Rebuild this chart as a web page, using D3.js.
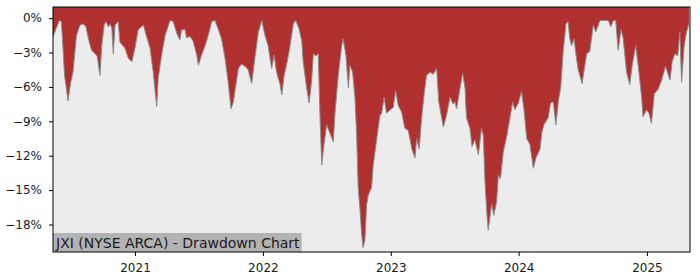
<!DOCTYPE html>
<html>
<head>
<meta charset="utf-8">
<script src="https://cdn.jsdelivr.net/npm/d3@7"></script>
<style>
  body { margin: 0; background: #fff; }
  svg { display: block; font-family: "DejaVu Sans", sans-serif; }
</style>
</head>
<body>
<svg id="chart" width="700" height="280"></svg>
<script>
// drawdown of JXI (percent)
const dates = [
  "2020-05-12","2020-05-30","2020-06-05","2020-06-14","2020-06-24","2020-07-01","2020-07-08","2020-07-18",
  "2020-07-28","2020-08-06","2020-08-14","2020-08-21","2020-08-30","2020-09-09","2020-09-15","2020-09-23",
  "2020-09-28","2020-10-05","2020-10-10","2020-10-17","2020-10-22","2020-10-27","2020-10-31","2020-11-05",
  "2020-11-14","2020-11-19","2020-12-03","2020-12-13","2020-12-23",
  "2021-01-01","2021-01-10","2021-01-25","2021-02-03","2021-02-13","2021-02-22","2021-03-04","2021-03-08",
  "2021-03-18","2021-03-28","2021-04-11","2021-04-20","2021-04-30","2021-05-09","2021-05-14","2021-05-24",
  "2021-05-28","2021-06-07","2021-06-16","2021-06-26","2021-07-01","2021-07-10","2021-07-20","2021-07-29",
  "2021-08-08","2021-08-17","2021-08-27","2021-09-05","2021-09-15","2021-09-24","2021-10-02","2021-10-09",
  "2021-10-13","2021-10-23","2021-11-01","2021-11-11","2021-11-20","2021-11-30","2021-12-09","2021-12-19",
  "2021-12-29",
  "2022-01-07","2022-01-16","2022-01-26","2022-02-02","2022-02-09","2022-02-19","2022-02-24","2022-03-02",
  "2022-03-10","2022-03-19","2022-03-29","2022-04-05","2022-04-15","2022-04-22","2022-04-26","2022-05-06",
  "2022-05-13","2022-05-20","2022-05-25","2022-06-01","2022-06-08","2022-06-13","2022-06-18","2022-06-24",
  "2022-07-02","2022-07-11","2022-07-21","2022-07-26","2022-08-04","2022-08-14","2022-08-18","2022-08-26",
  "2022-09-02","2022-09-06","2022-09-14","2022-09-21","2022-09-26","2022-09-30","2022-10-05","2022-10-10",
  "2022-10-14","2022-10-19","2022-10-24","2022-10-29","2022-11-07","2022-11-12","2022-11-22","2022-12-01",
  "2022-12-06","2022-12-13","2022-12-20","2022-12-30",
  "2023-01-08","2023-01-15","2023-01-22","2023-02-01","2023-02-10","2023-02-20","2023-03-02","2023-03-11",
  "2023-03-16","2023-03-23","2023-03-30","2023-04-07","2023-04-13","2023-04-23","2023-05-02","2023-05-12",
  "2023-05-18","2023-05-31","2023-06-09","2023-06-19","2023-06-28","2023-07-03","2023-07-08","2023-07-15",
  "2023-07-25","2023-08-01","2023-08-05","2023-08-15","2023-08-21","2023-08-29","2023-09-08","2023-09-17",
  "2023-09-22","2023-09-27","2023-10-02","2023-10-06","2023-10-16","2023-10-22","2023-10-30","2023-11-04",
  "2023-11-10","2023-11-18","2023-11-28","2023-12-07","2023-12-15","2023-12-21","2023-12-31",
  "2024-01-09","2024-01-16","2024-01-24","2024-02-02","2024-02-12","2024-02-19","2024-03-02","2024-03-07",
  "2024-03-13","2024-03-25","2024-04-01","2024-04-09","2024-04-16","2024-04-23","2024-04-30","2024-05-07",
  "2024-05-15","2024-05-21","2024-05-26","2024-05-31","2024-06-07","2024-06-14","2024-06-19","2024-06-30",
  "2024-07-13","2024-07-22","2024-08-01","2024-08-08","2024-08-20","2024-09-03","2024-09-13","2024-09-20",
  "2024-09-27","2024-10-04","2024-10-11","2024-10-19","2024-10-25","2024-11-04","2024-11-13","2024-11-20",
  "2024-11-30","2024-12-07","2024-12-17","2024-12-21","2024-12-31",
  "2025-01-07","2025-01-14","2025-01-22","2025-02-02","2025-02-12","2025-02-23","2025-03-08","2025-03-14",
  "2025-03-22","2025-03-30","2025-04-05","2025-04-10","2025-04-17","2025-04-24","2025-05-01"
];
const drawdown = [
  -1.6,-0.2,-0.3,-5.0,-7.2,-5.7,-4.7,-1.5,
  -0.6,-0.5,-0.75,-1.8,-2.8,-3.1,-3.3,-5.0,
  -2.4,-0.6,-0.3,-0.75,-0.5,-0.9,-3.1,-0.6,
  -0.3,-2.1,-2.6,-3.5,-3.8,
  -2.6,-1.0,-0.6,-1.6,-2.6,-4.7,-7.7,-5.3,
  -3.2,-1.5,-0.2,-0.3,-1.3,-1.9,-1.0,-1.0,
  -1.7,-1.6,-2.0,-3.2,-4.1,-3.2,-2.4,-1.5,
  -0.3,-0.2,-1.0,-1.8,-3.5,-5.6,-7.9,-7.3,
  -6.4,-4.4,-4.0,-4.2,-4.5,-5.7,-3.5,-1.2,
  -0.2,
  -1.5,-2.4,-4.4,-3.2,-4.7,-5.8,-6.7,-5.1,
  -4.0,-2.5,-0.5,-0.2,-1.0,-2.0,-3.8,-6.1,
  -7.4,-5.5,-3.1,-3.3,-3.1,-8.5,-12.8,-11.1,
  -9.3,-10.0,-10.8,-8.2,-5.0,-2.4,-1.8,-3.2,
  -6.1,-4.1,-4.7,-7.0,-10.5,-14.8,-16.6,-18.9,
  -20.0,-19.4,-16.3,-15.4,-14.8,-12.8,-10.5,-8.5,
  -8.3,-6.9,-8.3,-8.0,
  -7.8,-6.3,-7.6,-8.2,-9.6,-9.8,-11.4,-12.2,
  -10.5,-11.4,-8.7,-6.4,-5.0,-4.7,-4.9,-4.4,
  -7.3,-9.5,-8.5,-6.9,-7.5,-7.3,-7.9,-6.6,
  -4.8,-6.1,-8.7,-9.6,-11.2,-10.6,-11.9,-9.6,
  -10.2,-14.3,-16.9,-18.5,-16.2,-17.2,-16.0,-13.7,
  -14.0,-11.7,-10.3,-8.7,-7.3,-8.0,-7.4,
  -6.4,-7.9,-10.5,-11.0,-13.1,-12.2,-11.4,-10.0,
  -9.3,-8.7,-7.4,-7.3,-9.3,-7.3,-6.0,-2.9,
  -0.5,-0.3,-1.8,-2.4,-1.8,-3.5,-4.5,-5.7,
  -3.1,-2.9,-0.6,-1.2,-0.2,-0.2,-0.2,-0.75,
  -0.2,-0.2,-2.8,-1.0,-1.7,-4.7,-5.8,-4.1,
  -2.4,-4.1,-6.9,-8.6,-8.0,
  -8.3,-9.2,-6.6,-6.2,-5.4,-4.2,-5.4,-3.8,
  -3.1,-3.3,-1.2,-5.6,-2.5,-1.2,-0.5
];
const yTicks = [0, -3, -6, -9, -12, -15, -18];
const xTickYears = [2021, 2022, 2023, 2024, 2025];
const title = "JXI (NYSE ARCA) - Drawdown Chart";

const parseDate = d3.timeParse("%Y-%m-%d");
const data = dates.map((d, i) => ({ date: parseDate(d), value: drawdown[i] }));

const svg = d3.select("#chart");
const margin = { top: 7, right: 10, bottom: 28, left: 53 };
const width = +svg.attr("width");
const height = +svg.attr("height");
const innerWidth = width - margin.left - margin.right;
const innerHeight = height - margin.top - margin.bottom;

const g = svg.append("g")
    .attr("transform", `translate(${margin.left},${margin.top})`);

const xScale = d3.scaleTime()
  .domain([parseDate("2020-05-12"), parseDate("2025-05-04")])
  .range([0, innerWidth]);

const yScale = d3.scaleLinear()
  .domain([-20.4, 0.97])
  .range([innerHeight, 0]);

// plot background
g.append("rect")
    .attr("width", innerWidth)
    .attr("height", innerHeight)
    .attr("fill", "#ececec");

// red fill from the top of the axes down to the drawdown line
const area = d3.area()
  .x(d => xScale(d.date))
  .y0(0)
  .y1(d => yScale(d.value));

g.append("path")
    .datum(data)
    .attr("fill", "#b03030")
    .attr("d", area);

const line = d3.line()
  .x(d => xScale(d.date))
  .y(d => yScale(d.value));

g.append("path")
    .datum(data)
    .attr("fill", "none")
    .attr("stroke", "#8a8a8a")
    .attr("stroke-width", 1)
    .attr("d", line);

// title box in the lower left corner
const titleG = g.append("g");
const titleText = titleG.append("text")
    .attr("x", 3)
    .attr("y", innerHeight - 4)
    .attr("font-size", 14)
    .attr("fill", "#1a1a1a")
    .text(title);
const tw = titleText.node().getComputedTextLength();
titleG.insert("rect", "text")
    .attr("x", 0)
    .attr("y", innerHeight - 19)
    .attr("width", tw + 5)
    .attr("height", 19)
    .attr("fill", "#b3b3b3");

// y axis
const yAxis = d3.axisLeft(yScale)
  .tickValues(yTicks)
  .tickSize(4)
  .tickPadding(7)
  .tickFormat(d => (d < 0 ? "\u2212" + Math.abs(d) : d) + "%");

g.append("g")
    .call(yAxis)
    .attr("font-family", "DejaVu Sans")
    .attr("font-size", 12)
    .call(a => a.select(".domain").remove())
    .selectAll("text")
      .attr("fill", "#1a1a1a");

// x axis
const xAxis = d3.axisBottom(xScale)
  .tickValues(xTickYears.map(y => new Date(y, 0, 1)))
  .tickSize(4)
  .tickPadding(7)
  .tickFormat(d3.timeFormat("%Y"));

g.append("g")
    .attr("transform", `translate(0,${innerHeight})`)
    .call(xAxis)
    .attr("font-family", "DejaVu Sans")
    .attr("font-size", 12)
    .call(a => a.select(".domain").remove())
    .selectAll("text")
      .attr("fill", "#1a1a1a");

// frame
g.append("rect")
    .attr("width", innerWidth)
    .attr("height", innerHeight)
    .attr("fill", "none")
    .attr("stroke", "#000")
    .attr("stroke-width", 1);
</script>
</body>
</html>
